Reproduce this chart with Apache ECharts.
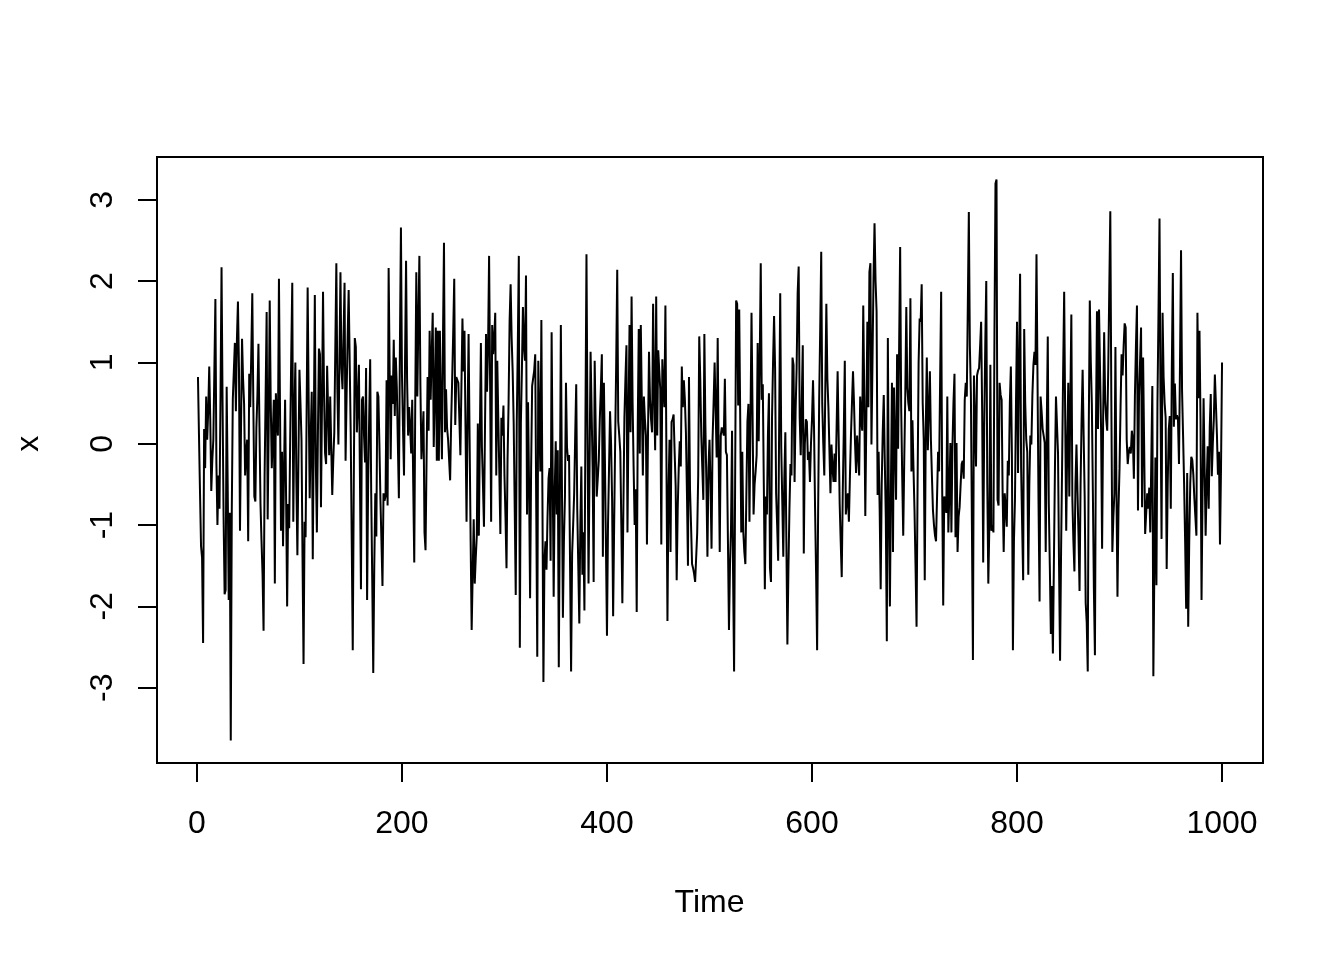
<!DOCTYPE html>
<html>
<head>
<meta charset="utf-8">
<script src="https://cdn.jsdelivr.net/npm/echarts/dist/echarts.min.js"></script>
<style>html,body{margin:0;padding:0;background:#fff}#c{width:1344px;height:960px}</style>
</head>
<body>
<div id="c"></div>
<script>
// Series x, t = 1..1000, in blocks
const xBlockA = [ // t 1-80
0.82,0.1,-0.6,-1.26,-1.4,-2.45,0.18,-0.3,0.58,0.05,
0.4,0.95,0.3,-0.58,-0.2,0.05,0.9,1.78,-0.25,-1.0,
-0.39,-0.8,0.6,2.17,0.5,-0.9,-1.85,-1.8,0.7,-0.5,
-1.92,-0.85,-3.65,-0.82,0.55,0.9,1.24,0.4,1.28,1.75,
0.93,-1.07,0.2,1.29,0.8,0.49,-0.39,-0.1,0.05,-1.2,
0.86,0.45,1.1,1.85,0.5,-0.65,-0.71,0.2,0.6,1.23,
0.2,-0.74,-1.2,-1.6,-2.3,-0.4,0.6,1.62,-0.93,0.2,
1.76,0.5,-0.3,0.1,0.54,-1.72,0.62,0.3,0.1,2.03];
const xBlockB = [ // t 81-166
0.5,-1.07,-0.1,-1.26,-0.3,0.54,-0.69,-2.0,-0.74,-1.04,
0.1,1.1,1.98,-0.96,0.3,1.0,-0.47,-1.37,-0.2,0.91,
0.5,0.05,-1.4,-2.71,-0.96,-1.15,0.4,1.92,0.54,-0.67,
0.1,0.64,-1.42,0.2,1.83,-0.25,-1.09,0.1,1.17,1.1,
-0.78,0.5,1.87,0.6,-0.12,-0.25,0.96,0.4,-0.14,0.58,
0.58,-0.63,-0.2,0.14,1.2,2.22,0.67,-0.01,1.0,2.11,
0.93,0.67,1.3,1.98,-0.21,0.6,1.3,1.89,1.02,0.14,
-1.2,-2.54,-0.5,1.3,1.19,0.14,0.5,0.97,-0.4,-1.79,
0.54,0.58,0.1,-0.23,0.93,-1.92];
const xBlockC = [ // t 167-252
-0.5,0.3,1.04,-0.6,-1.66,-2.82,-1.5,-0.61,-1.14,0.64,
0.58,0.0,-0.69,-1.2,-1.75,-0.61,-0.7,-0.65,0.78,-0.76,
2.16,0.9,-0.19,0.84,0.49,1.28,0.34,1.06,0.69,0.0,
-0.67,1.2,2.66,0.86,0.2,-0.39,1.0,2.25,0.8,0.1,
0.45,0.2,-0.12,0.54,-0.5,-1.46,0.58,2.11,0.58,1.5,
2.31,0.71,-0.19,0.1,0.4,-1.09,-1.31,-0.2,0.82,0.16,
1.39,0.54,1.1,1.61,-0.04,0.6,1.43,-0.21,1.39,-0.21,
1.39,0.5,-0.19,1.28,2.47,0.14,0.67,0.2,0.05,-0.2,
-0.45,0.27,0.8,1.37,2.03,0.23];
const xBlockD = [ // t 253-338
0.82,0.8,0.75,0.3,-0.14,0.7,1.54,0.89,1.39,0.2,
-0.96,0.3,1.35,0.05,-1.2,-2.29,-1.6,-0.93,-1.72,-1.4,
-1.13,0.25,-1.13,0.1,1.24,-0.04,-0.5,-1.02,0.2,1.35,
0.64,1.2,2.31,0.73,-0.96,1.46,1.1,1.3,1.61,-0.39,
1.02,0.3,-0.36,-1.11,0.32,0.1,0.47,-0.39,-0.9,-1.53,
-0.2,0.49,1.5,1.96,1.3,0.89,0.25,-0.8,-1.86,0.27,
1.2,2.31,-2.51,0.25,0.9,1.68,1.2,1.02,2.07,-0.87,
0.51,-0.5,-1.9,-0.3,0.71,0.73,0.9,1.1,-0.8,-2.62,
1.02,0.3,-0.34,1.52,-0.6,-2.93];
const xBlockE = [ // t 339-424
-1.44,-1.2,-1.55,-0.9,-0.43,-0.3,-1.44,1.37,-0.3,-1.88,
-0.6,0.03,-0.87,-0.08,-2.75,-0.82,1.46,-0.4,-2.14,-1.2,
-0.65,0.75,-0.04,-0.21,-0.14,-1.5,-2.8,-1.35,-1.0,-0.61,
0.1,0.73,-0.8,-1.5,-2.21,-1.0,-0.28,-1.61,-1.09,-2.05,
0.3,2.33,0.2,-1.72,-0.3,1.13,1.15,-0.3,-1.7,1.02,
0.2,-0.65,-0.43,-0.21,0.3,0.67,1.1,-1.39,0.75,-0.2,
-1.26,-2.36,-1.0,-0.3,0.4,0.0,-0.69,-2.12,-1.0,0.05,
1.0,2.14,0.27,0.1,-0.1,-1.0,-1.96,-0.8,0.32,0.8,
1.21,-1.09,0.3,1.46,0.14,1.81];
const xBlockF = [ // t 425-510
0.5,-0.3,-1.0,-0.56,-2.07,0.2,1.41,-0.12,1.46,0.5,
-0.39,0.58,0.3,0.1,-1.24,0.1,1.13,0.54,0.3,0.14,
1.72,0.6,-0.08,1.81,0.1,1.15,0.9,0.67,-1.24,1.04,
0.7,0.45,1.7,-0.17,-2.18,-0.6,0.05,-1.33,0.27,0.3,
0.36,-0.1,-0.52,-1.68,-0.8,-0.3,0.03,-0.28,0.95,0.45,
0.78,0.54,0.14,-0.6,-1.5,0.82,-0.56,-1.0,-1.48,-1.53,
-1.6,-1.7,-1.68,-1.1,-0.39,1.32,0.8,0.1,-0.3,-0.69,
1.35,0.23,-0.5,-1.39,-0.3,0.05,-0.5,-1.29,0.05,0.5,
1.0,1.0,-0.17,1.3,-0.2,-1.33];
const xBlockG = [ // t 511-596
0.1,0.2,0.16,0.1,0.8,-0.1,-0.14,-1.2,-2.29,-1.5,
-1.04,0.16,-1.59,-2.8,-0.5,1.76,1.72,0.47,1.65,0.3,
-1.09,-0.1,-1.09,-1.33,-1.48,-0.6,0.27,0.49,-0.96,0.3,
1.61,0.4,-0.87,-0.5,-0.34,-0.14,1.24,0.03,1.0,2.22,
0.54,0.73,-0.5,-1.79,-0.65,-0.87,0.1,0.62,-1.53,-1.7,
0.32,1.0,1.57,0.93,-0.61,-1.0,-1.44,0.3,1.85,-0.04,
-0.7,-1.39,-0.43,0.14,-1.2,-2.47,-1.55,-0.8,-0.25,-0.39,
1.06,0.97,-0.47,0.4,0.93,1.85,2.18,0.32,-0.14,0.5,
1.21,-1.35,-0.01,0.3,0.27,-0.2];
const xBlockH = [ // t 597-682
-0.1,-0.47,0.0,0.3,0.78,0.18,-0.8,-1.6,-2.54,-0.8,
0.54,1.4,2.36,0.49,0.0,-0.39,0.7,1.72,0.8,0.45,
0.44,-0.61,-0.01,-0.3,-0.47,-0.12,-0.47,0.2,0.89,0.1,
-0.74,-1.2,-1.64,-0.6,0.14,1.02,-0.87,-0.7,-0.61,-0.96,
-0.4,0.1,0.5,0.89,0.49,0.0,-0.36,0.1,0.1,-0.39,
0.58,0.3,0.16,1.7,0.58,-0.89,0.3,1.5,0.45,2.11,
2.22,-0.01,1.0,2.03,2.71,2.0,1.63,-0.63,-0.1,-0.8,
-1.79,-0.5,0.14,0.6,-0.2,-0.91,-2.43,1.3,-0.78,-2.0,
-0.5,0.75,-1.33,0.69,0.0,-0.69];
const xBlockI = [ // t 683-767
1.1,-0.06,1.2,2.42,0.45,-0.4,-1.13,-0.2,0.6,1.68,
0.69,0.5,0.4,1.79,-0.34,0.29,-0.3,-0.82,-1.5,-2.25,
-0.5,1.0,1.54,1.5,1.96,0.5,0.05,-1.68,0.2,1.06,
-0.08,0.4,0.89,0.05,-0.4,-0.82,-1.0,-1.13,-1.2,-1.22,
-0.1,-0.34,0.8,1.87,-0.54,-1.99,-0.65,-0.7,-0.85,0.58,
-1.09,-0.61,0.01,-1.09,-0.04,0.5,0.86,-1.15,0.01,-1.33,
-0.9,-0.78,-0.5,-0.25,-0.21,-0.43,0.54,0.75,0.58,1.7,
2.85,1.2,0.62,-1.0,-2.66,0.84,0.3,-0.28,0.84,0.9,
0.93,1.2,1.5,0.4,-1.46];
const xBlockJ = [ // t 768-853
0.2,1.2,2.0,-0.5,-1.72,-1.02,0.97,-1.07,-1.0,-1.09,
1.37,3.2,3.25,-0.69,-0.76,0.75,0.6,0.54,-0.65,-1.33,
-0.61,-0.8,-1.02,-0.21,-0.39,0.5,0.95,-0.12,-2.54,-1.2,
-0.69,0.5,1.5,-0.36,1.0,2.09,-0.3,-1.0,-1.68,1.41,
0.5,0.05,-0.1,-1.61,-0.5,0.1,-0.01,0.6,0.97,1.13,
0.97,2.33,0.8,-0.74,-1.94,0.58,0.4,0.18,0.1,0.01,
-1.33,0.2,1.32,-0.74,-1.5,-2.34,-1.75,-2.58,-1.44,-0.3,
0.58,0.58,-0.12,-1.5,-2.67,-1.3,-0.25,0.9,1.87,0.32,
-1.07,0.0,0.75,-0.65,0.5,1.59];
const xBlockK = [ // t 854-939
-0.69,-1.2,-1.57,-0.5,-0.01,-0.6,-1.13,-1.81,-0.5,0.3,
0.91,0.1,-0.65,-1.96,-2.2,-2.8,0.2,1.76,1.0,0.49,
-0.61,-1.8,-2.6,0.2,1.63,0.18,1.65,0.9,0.18,-1.29,
0.3,1.37,0.54,0.3,0.16,0.93,1.9,2.86,0.54,-1.33,
-0.9,-0.61,1.19,-0.58,-1.88,-0.8,-0.3,0.45,1.1,0.84,
1.2,1.48,1.43,0.05,-0.25,-0.1,-0.04,-0.12,0.16,0.05,
-0.43,0.58,1.2,1.7,-0.82,0.58,1.0,1.43,-0.78,1.06,
0.0,-1.11,-1.09,-0.61,-0.8,-0.54,-1.09,-0.2,0.71,-2.86,
-1.5,-0.17,-1.74,0.5,1.6,2.77];
const xBlockL = [ // t 940-1000
0.5,-1.17,1.61,0.82,0.5,0.32,-1.54,-0.5,0.17,0.34,
-0.8,0.9,2.1,0.21,0.74,0.3,0.35,0.3,-0.25,1.0,
2.38,0.65,0.1,-0.49,-1.2,-2.03,-0.36,-2.25,-1.2,-0.49,
-0.16,-0.2,-0.38,-0.67,-0.9,-1.13,1.61,0.56,1.39,0.3,
-1.92,-0.6,0.56,0.58,-1.13,-0.5,-0.03,-0.8,0.2,0.61,
-0.4,0.0,0.3,0.85,0.5,0.12,-0.38,-0.1,-1.24,-0.3,
1.0];

const xValues = [].concat(xBlockA, xBlockB, xBlockC, xBlockD, xBlockE, xBlockF,
                          xBlockG, xBlockH, xBlockI, xBlockJ, xBlockK, xBlockL);
const timeStart = 1;
const timeValues = xValues.map((_, i) => timeStart + i);
const timeTicks = [0, 200, 400, 600, 800, 1000];
const valueTicks = [-3, -2, -1, 0, 1, 2, 3];
const xTitle = 'Time';
const yTitle = 'x';

// Layout (R-style plot region and 4% axis expansion)
const PL = 157, PT = 157, PW = 1106, PH = 606;
const tLo = timeValues[0], tHi = timeValues[timeValues.length - 1];
const XMIN = tLo - 0.04 * (tHi - tLo), XMAX = tHi + 0.04 * (tHi - tLo);
const YMIN = -3.926, YMAX = 3.526;
const px = t => PL + (t - XMIN) / (XMAX - XMIN) * PW;
const py = v => PT + (YMAX - v) / (YMAX - YMIN) * PH;

const FONT = 'Liberation Sans, Arial, Helvetica, sans-serif';
const txt = { color: '#000', fontSize: 32, fontFamily: FONT };
const plain = v => String(v);

const chart = echarts.init(document.getElementById('c'), null, { renderer: 'canvas' });
chart.setOption({
  animation: false,
  backgroundColor: '#fff',
  grid: [
    { left: PL, top: PT, width: PW, height: PH, show: true, borderColor: '#000', borderWidth: 2, backgroundColor: 'transparent' },
    { left: px(timeTicks[0]), top: PT, width: px(timeTicks[timeTicks.length - 1]) - px(timeTicks[0]), height: PH },
    { left: PL, top: py(valueTicks[valueTicks.length - 1]), width: PW, height: py(valueTicks[0]) - py(valueTicks[valueTicks.length - 1]) }
  ],
  xAxis: [
    { gridIndex: 0, type: 'value', min: XMIN, max: XMAX, show: false },
    { gridIndex: 1, type: 'value', min: timeTicks[0], max: timeTicks[timeTicks.length - 1],
      interval: timeTicks[1] - timeTicks[0], position: 'bottom',
      axisLine: { show: true, lineStyle: { color: '#000', width: 2 } },
      axisTick: { show: true, length: 19, lineStyle: { color: '#000', width: 2 } },
      axisLabel: Object.assign({ margin: 45, showMinLabel: true, showMaxLabel: true, formatter: plain }, txt),
      splitLine: { show: false },
      name: xTitle, nameLocation: 'middle', nameGap: 124, nameTextStyle: txt },
    { gridIndex: 2, type: 'value', min: 0, max: 1, show: false }
  ],
  yAxis: [
    { gridIndex: 0, type: 'value', min: YMIN, max: YMAX, show: false },
    { gridIndex: 1, type: 'value', min: 0, max: 1, show: false },
    { gridIndex: 2, type: 'value', min: valueTicks[0], max: valueTicks[valueTicks.length - 1],
      interval: 1, position: 'left',
      axisLine: { show: true, lineStyle: { color: '#000', width: 2 } },
      axisTick: { show: true, length: 19, lineStyle: { color: '#000', width: 2 } },
      axisLabel: Object.assign({ margin: 38, rotate: 90, showMinLabel: true, showMaxLabel: true, formatter: plain }, txt),
      splitLine: { show: false },
      name: yTitle, nameLocation: 'middle', nameGap: 112, nameRotate: 90, nameTextStyle: txt }
  ],
  series: [{
    type: 'line',
    xAxisIndex: 0, yAxisIndex: 0,
    data: timeValues.map((t, i) => [t, xValues[i]]),
    symbol: 'none', showSymbol: false,
    sampling: null,
    lineStyle: { color: '#000', width: 2 },
    clip: true,
    silent: true
  }]
});
</script>
</body>
</html>
